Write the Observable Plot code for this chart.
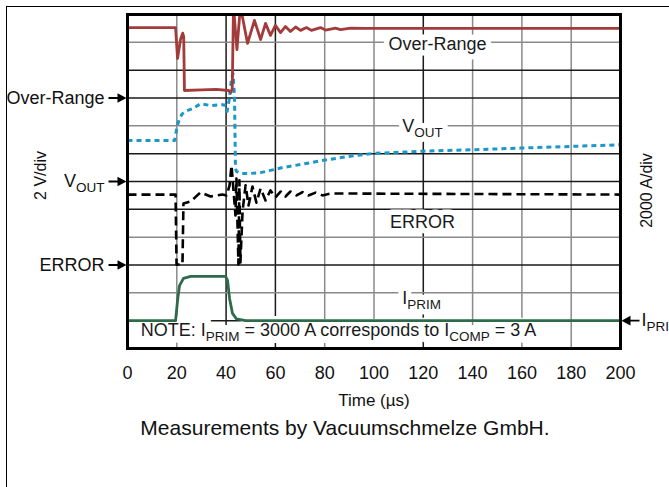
<!DOCTYPE html>
<html><head><meta charset="utf-8">
<script src="https://cdn.jsdelivr.net/npm/d3@7"></script>
<script src="https://cdn.jsdelivr.net/npm/@observablehq/plot@0.6"></script>
<style>
body{margin:0;background:#fff;font-family:"Liberation Sans",Arial,sans-serif;}
#wrap{position:relative;width:669px;height:487px;overflow:hidden;background:#fff;}
#box{position:absolute;left:6px;top:6px;width:700px;height:500px;border-left:1.5px solid #000;border-top:1.5px solid #000;}
#chart{position:absolute;left:0;top:0;}
#caption{position:absolute;left:0;width:690px;top:415px;text-align:center;font-size:21px;color:#111;line-height:26px;}
</style></head><body>
<div id="wrap"><div id="box"></div><div id="chart"></div><div id="caption">Measurements by Vacuumschmelze GmbH.</div></div>
<script>
// Time axis (µs) and vertical divisions
const timeTicks = [0, 20, 40, 60, 80, 100, 120, 140, 160, 180, 200];
const gridXLight = [20, 80, 100, 140, 160, 180];
const gridXDark = [40, 60, 120];
const gridYLight = [2, 4, 8, 11];
const gridYDark = [1, 3, 5, 6, 7, 9, 10];

// Over-Range trace (time µs, level in divisions)
const overRangeT = [0, 19.5, 20.3, 21.5, 22.4, 22.8, 23.1, 30, 36, 41.0, 42.0, 42.5, 43.0, 44.4, 45.8, 48.7, 51.5, 54.0, 56.0, 58.0, 60.0, 62.1, 64.1, 66.1, 68.2, 70.2, 72.6, 74.6, 78.3, 80.3, 84.4, 86.4, 90.5, 96.5, 200];
const overRangeV = [11.53, 11.53, 10.42, 11.1, 11.33, 11.2, 9.27, 9.29, 9.31, 9.27, 9.2, 9.35, 12.3, 10.74, 12.3, 10.96, 11.79, 11.1, 11.68, 11.25, 11.61, 11.35, 11.57, 11.39, 11.55, 11.43, 11.53, 11.43, 11.53, 11.44, 11.51, 11.46, 11.51, 11.5, 11.5];

// V_OUT trace
const voutT = [0, 19.1, 20.2, 21.1, 22.2, 24.0, 26.2, 29.6, 33.7, 38.4, 39.4, 40.4, 41.2, 42.2, 42.8, 43.4, 43.8, 44.2, 45.8, 49.9, 54.0, 58.0, 62.9, 70.2, 79.5, 89.7, 99.8, 120.1, 140, 159.4, 179.7, 200];
const voutV = [7.47, 7.47, 8.01, 8.26, 8.43, 8.54, 8.61, 8.79, 8.73, 8.76, 8.75, 8.52, 8.91, 9.70, 9.88, 9.09, 6.47, 6.36, 6.29, 6.29, 6.32, 6.40, 6.50, 6.61, 6.76, 6.90, 7.01, 7.09, 7.14, 7.20, 7.26, 7.32];

// ERROR trace
const errorT = [0, 19.5, 19.9, 22.3, 22.7, 25.6, 29.6, 33.7, 38.5, 40.2, 41.4, 42.2, 43.0, 43.8, 44.2, 45.0, 45.4, 45.8, 46.7, 47.9, 49.1, 50.7, 52.3, 54.0, 56.0, 58.0, 60.0, 62.1, 64.1, 66.1, 68.6, 71.0, 73.4, 76.3, 79.1, 82.4, 200];
const errorV = [5.53, 5.53, 3.02, 3.02, 5.21, 5.28, 5.61, 5.46, 5.53, 5.50, 5.86, 6.58, 5.68, 4.78, 6.11, 3.02, 6.04, 3.09, 4.96, 5.86, 5.14, 5.82, 5.24, 5.75, 5.32, 5.68, 5.43, 5.64, 5.46, 5.64, 5.50, 5.62, 5.50, 5.60, 5.50, 5.57, 5.53];

// I_PRIM trace
const iprimT = [0, 19.5, 20.3, 21.1, 22.7, 25.6, 39.8, 40.6, 41.4, 42.6, 44.2, 47.9, 200];
const iprimV = [1.0, 1.0, 1.72, 2.26, 2.52, 2.59, 2.59, 2.44, 1.80, 1.26, 1.06, 1.0, 1.0];

// Labels
const leftLabels = ["Over-Range", "V_{OUT}", "ERROR"];
const leftLevels = [9, 6, 3];
const rightLabels = ["I_{PRIM}"];
const rightLevels = [1];
const innerLabels = ["Over-Range", "V_{OUT}", "ERROR", "I_{PRIM}"];
const innerT = [125.8, 119.7, 119.7, 119.3];
const innerLevels = [10.92, 8.0, 4.53, 1.8];
const noteText = ["NOTE: I_{PRIM} = 3000 A corresponds to I_{COMP} = 3 A"];
const noteT = [5.4];
const noteLevels = [0.65];

const series = (t, v) => t.map((x, i) => ({t: x, v: v[i]}));

const arrowSymbol = {
  draw(ctx) {
    ctx.moveTo(-9, -0.9); ctx.lineTo(0, -0.9); ctx.lineTo(0, -4.8);
    ctx.lineTo(9, 0); ctx.lineTo(0, 4.8); ctx.lineTo(0, 0.9);
    ctx.lineTo(-9, 0.9); ctx.closePath();
  }
};

const H = 416;
const chart = Plot.plot({
  width: 669, height: H,
  marginLeft: 127, marginRight: 49, marginTop: 14, marginBottom: H - 348,
  x: {domain: [0, 200], label: null},
  y: {domain: [0, 12], axis: null},
  style: {fontFamily: "'Liberation Sans', Arial, sans-serif", fontSize: "18px", color: "#111", background: "transparent", overflow: "visible"},
  marks: [
    Plot.ruleX(gridXLight, {stroke: "#8a8a8a", strokeWidth: 1.5}),
    Plot.ruleX(gridXDark, {stroke: "#1a1a1a", strokeWidth: 1.5}),
    Plot.ruleY(gridYLight, {stroke: "#8a8a8a", strokeWidth: 1.5}),
    Plot.ruleY(gridYDark, {stroke: "#1a1a1a", strokeWidth: 1.5}),
    // white knock-out behind in-plot labels
    Plot.text(innerLabels, {x: innerT, y: innerLevels, text: d => d, fill: "white", stroke: "white", strokeWidth: 11, fontSize: 18}),
    Plot.text(noteText, {x: noteT, y: noteLevels, text: d => d, textAnchor: "start", fill: "white", stroke: "white", strokeWidth: 14, fontSize: 18}),
    Plot.text(innerLabels, {x: innerT, y: innerLevels, text: d => d, fill: "#1a1a1a", fontSize: 18}),
    Plot.text(noteText, {x: noteT, y: noteLevels, text: d => d, textAnchor: "start", fill: "#1a1a1a", fontSize: 18}),
    Plot.line(series(iprimT, iprimV), {x: "t", y: "v", stroke: "#2e6b4b", strokeWidth: 2.8, clip: true}),
    Plot.line(series(errorT, errorV), {x: "t", y: "v", stroke: "#000", strokeWidth: 2.6, strokeDasharray: "9,5", strokeLinecap: "butt", clip: true}),
    Plot.line(series(voutT, voutV), {x: "t", y: "v", stroke: "#1b97c9", strokeWidth: 3, strokeDasharray: "5,4", strokeLinecap: "butt", clip: true}),
    Plot.line(series(overRangeT, overRangeV), {x: "t", y: "v", stroke: "#a33b3b", strokeWidth: 2.8, clip: true}),
    Plot.frame({stroke: "#000", strokeWidth: 3}),
    Plot.axisX({ticks: timeTicks, tickSize: 0, tickPadding: 18, label: null, fontSize: 18}),
    Plot.text(["Time (\u00b5s)"], {frameAnchor: "bottom", dy: 57, fontSize: 17}),
    Plot.text(leftLabels, {y: leftLevels, text: d => d, frameAnchor: "left", dx: -23, textAnchor: "end", fontSize: 18}),
    Plot.dot(leftLevels, {y: d => d, frameAnchor: "left", dx: -10, symbol: arrowSymbol, r: 5, fill: "#000"}),
    Plot.text(rightLabels, {y: rightLevels, text: d => d, frameAnchor: "right", dx: 21, textAnchor: "start", fontSize: 18}),
    Plot.dot(rightLevels, {y: d => d, frameAnchor: "right", dx: 10, symbol: arrowSymbol, rotate: 180, r: 5, fill: "#000"}),
    Plot.text(["2 V/div"], {frameAnchor: "left", dx: -87, dy: -6, rotate: -90, textAnchor: "middle", fontSize: 16}),
    Plot.text(["2000 A/div"], {frameAnchor: "right", dx: 26, dy: 9, rotate: -90, textAnchor: "middle", fontSize: 16})
  ]
});

// Turn "_{...}" into subscripts
const NS = "http://www.w3.org/2000/svg";
chart.querySelectorAll("text").forEach(t => {
  const s = t.textContent;
  if (!s.includes("_{")) return;
  const parts = s.split(/(_\{[^}]*\})/).filter(p => p);
  t.textContent = "";
  let down = false;
  for (const p of parts) {
    const ts = document.createElementNS(NS, "tspan");
    if (p.startsWith("_{")) {
      ts.textContent = p.slice(2, -1);
      ts.setAttribute("font-size", "0.75em");
      if (!down) ts.setAttribute("dy", "5");
      down = true;
    } else {
      ts.textContent = p;
      if (down) ts.setAttribute("dy", "-5");
      down = false;
    }
    t.appendChild(ts);
  }
});

document.getElementById("chart").appendChild(chart);
</script>
</body></html>
